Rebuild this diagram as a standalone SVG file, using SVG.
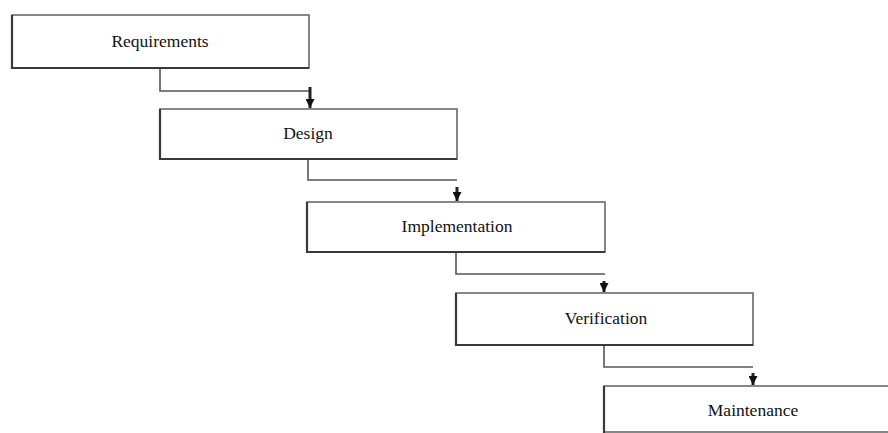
<svg xmlns="http://www.w3.org/2000/svg" width="888" height="433" viewBox="0 0 888 433">
<style>
.box{fill:#fff;stroke:#6a6a6a;stroke-width:1.6}
.sh{fill:none;stroke:#3a3a3a;stroke-width:2.2}
.lbl{font-family:"Liberation Serif","Times New Roman",serif;font-size:17.5px;fill:#111;text-anchor:middle}
.ln{fill:none;stroke:#555;stroke-width:1.6}
.ar{fill:none;stroke:#222;stroke-width:3;marker-end:url(#ah)}
</style>
<defs>
<marker id="ah" viewBox="0 0 10 10" refX="10" refY="5" markerWidth="9" markerHeight="9" markerUnits="userSpaceOnUse" orient="auto">
<path d="M0,0 L10,5 L0,10 Z" fill="#111"/>
</marker>
</defs>
<rect width="888" height="433" fill="#fff"/>
<g id="connectors">
<path class="ln" d="M160,68 V91 H310"/>
<path class="ar" d="M310,87 V108"/>
<path class="ln" d="M308,159 V180 H457"/>
<path class="ar" d="M457,187 V201"/>
<path class="ln" d="M456,252 V274 H605"/>
<path class="ar" d="M604,281 V292"/>
<path class="ln" d="M604,345 V367 H753"/>
<path class="ar" d="M753,373 V385"/>
</g>
<g id="requirements">
<rect class="box" x="12" y="15" width="297" height="53"/>
<path class="sh" d="M12,15 V68 H309"/>
<text class="lbl" x="160" y="47">Requirements</text>
</g>
<g id="design">
<rect class="box" x="160" y="109" width="297" height="50"/>
<path class="sh" d="M160,109 V159 H457"/>
<text class="lbl" x="308" y="139">Design</text>
</g>
<g id="implementation">
<rect class="box" x="307" y="202" width="298" height="50"/>
<path class="sh" d="M307,202 V252 H605"/>
<text class="lbl" x="457" y="232">Implementation</text>
</g>
<g id="verification">
<rect class="box" x="456" y="293" width="297" height="52"/>
<path class="sh" d="M456,293 V345 H753"/>
<text class="lbl" x="606" y="324">Verification</text>
</g>
<g id="maintenance">
<rect class="box" x="604" y="386" width="297" height="46"/>
<path class="sh" d="M604,386 V433"/>
<text class="lbl" x="753" y="416">Maintenance</text>
</g>
</svg>
